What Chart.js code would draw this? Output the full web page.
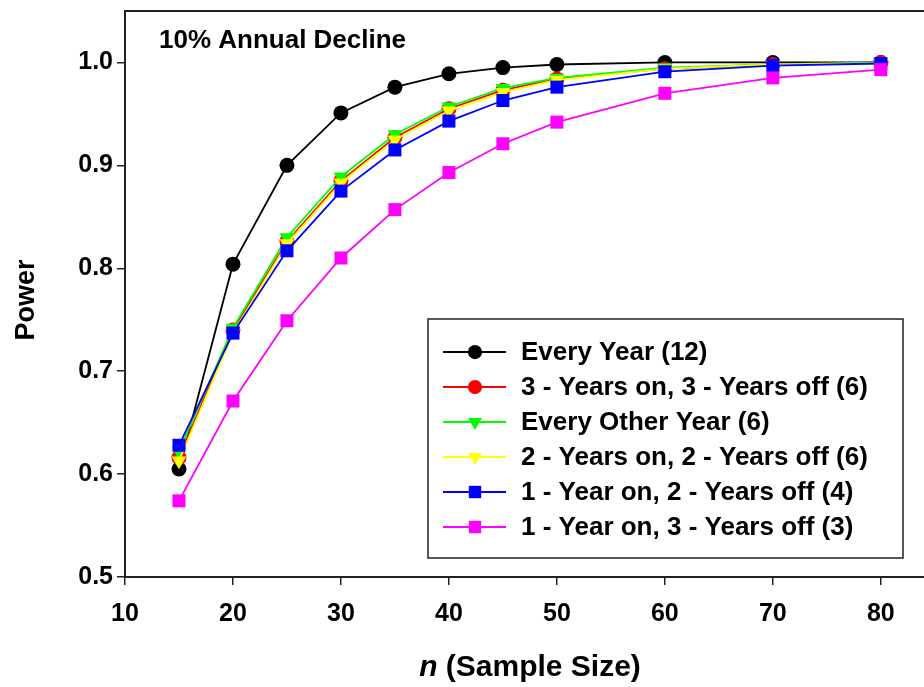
<!DOCTYPE html>
<html lang="en">
<head>
  <meta charset="UTF-8" />
  <title>Power vs Sample Size</title>
  <script src="https://cdn.jsdelivr.net/npm/chart.js"></script>
  <style>
    html, body { margin: 0; padding: 0; background: #fff; overflow: hidden; }
    #powerChart { display: block; }
  </style>
</head>
<body>
  <canvas id="powerChart" width="924" height="687"></canvas>

  <script>
    // sample sizes (x) and power values per sampling scheme
    const sampleSizes = [15, 20, 25, 30, 35, 40, 45, 50, 60, 70, 80];
    const everyYear = [0.605, 0.804, 0.900, 0.951, 0.976, 0.989, 0.995, 0.998, 1.000, 1.000, 1.000];
    const threeOnThreeOff = [0.616, 0.740, 0.826, 0.885, 0.927, 0.955, 0.973, 0.984, 0.994, 0.998, 1.000];
    const everyOtherYear = [0.622, 0.742, 0.830, 0.889, 0.930, 0.957, 0.975, 0.985, 0.995, 0.998, 1.000];
    const twoOnTwoOff = [0.613, 0.737, 0.824, 0.883, 0.925, 0.953, 0.971, 0.983, 0.994, 0.998, 0.999];
    const oneOnTwoOff = [0.628, 0.737, 0.817, 0.875, 0.915, 0.943, 0.963, 0.976, 0.991, 0.997, 0.999];
    const oneOnThreeOff = [0.574, 0.671, 0.749, 0.810, 0.857, 0.893, 0.921, 0.942, 0.970, 0.985, 0.993];

    const seriesLabels = [
      'Every Year (12)',
      '3 - Years on, 3 - Years off (6)',
      'Every Other Year (6)',
      '2 - Years on, 2 - Years off (6)',
      '1 - Year on, 2 - Years off (4)',
      '1 - Year on, 3 - Years off (3)'
    ];
    const xTicks = [10, 20, 30, 40, 50, 60, 70, 80];
    const yTicks = [0.5, 0.6, 0.7, 0.8, 0.9, 1.0];

    const FONT = 'Arial, "Liberation Sans", Helvetica, sans-serif';

    const styles = [
      { color: '#000000', pointStyle: 'circle', rotation: 0, radius: 7.5 },
      { color: '#ff0000', pointStyle: 'circle', rotation: 0, radius: 7.5 },
      { color: '#00ff00', pointStyle: 'triangle', rotation: 180, radius: 8.5 },
      { color: '#ffff00', pointStyle: 'triangle', rotation: 180, radius: 8.5 },
      { color: '#0000ff', pointStyle: 'rect', rotation: 0, radius: 9.2 },
      { color: '#ff00ff', pointStyle: 'rect', rotation: 0, radius: 9.2 }
    ];
    const allSeries = [everyYear, threeOnThreeOff, everyOtherYear, twoOnTwoOff, oneOnTwoOff, oneOnThreeOff];

    const datasets = allSeries.map((vals, i) => ({
      label: seriesLabels[i],
      data: vals.map((v, j) => ({ x: sampleSizes[j], y: v })),
      borderColor: styles[i].color,
      backgroundColor: styles[i].color,
      pointBackgroundColor: styles[i].color,
      pointBorderColor: styles[i].color,
      pointBorderWidth: 0,
      pointStyle: styles[i].pointStyle,
      pointRotation: styles[i].rotation,
      pointRadius: styles[i].radius,
      borderWidth: 1.8,
      tension: 0,
      fill: false,
      clip: false,
      order: allSeries.length - i   // later series drawn on top
    }));

    // frame, panel title, axis titles and the boxed legend
    const decorations = {
      id: 'decorations',
      afterDraw(chart) {
        const ctx = chart.ctx;
        const area = chart.chartArea;
        ctx.save();

        // top border of the plot frame
        ctx.strokeStyle = '#222';
        ctx.lineWidth = 2;
        ctx.beginPath();
        ctx.moveTo(area.left, area.top);
        ctx.lineTo(chart.width, area.top);
        ctx.stroke();

        // panel title
        ctx.fillStyle = '#000';
        ctx.font = 'bold 26px ' + FONT;
        ctx.textAlign = 'left';
        ctx.textBaseline = 'middle';
        ctx.fillText('10% Annual Decline', area.left + 34, area.top + 30);

        // y axis title
        ctx.save();
        ctx.translate(27, 300);
        ctx.rotate(-Math.PI / 2);
        ctx.textAlign = 'center';
        ctx.font = 'bold 27px ' + FONT;
        ctx.fillText('Power', 0, 0);
        ctx.restore();

        // x axis title: italic n + bold text
        const part1 = 'n';
        const part2 = ' (Sample Size)';
        ctx.font = 'italic bold 30px ' + FONT;
        const w1 = ctx.measureText(part1).width;
        ctx.font = 'bold 30px ' + FONT;
        const w2 = ctx.measureText(part2).width;
        const cx = 530;
        const tx = cx - (w1 + w2) / 2;
        const ty = 668;
        ctx.textAlign = 'left';
        ctx.font = 'italic bold 30px ' + FONT;
        ctx.fillText(part1, tx, ty);
        ctx.font = 'bold 30px ' + FONT;
        ctx.fillText(part2, tx + w1, ty);

        // legend box
        const box = { x: 428, y: 319, w: 475, h: 239 };
        ctx.fillStyle = '#fff';
        ctx.fillRect(box.x, box.y, box.w, box.h);
        ctx.strokeStyle = '#222';
        ctx.lineWidth = 1.5;
        ctx.strokeRect(box.x, box.y, box.w, box.h);

        chart.data.datasets.forEach((ds, i) => {
          const y = box.y + 33 + i * 35;
          ctx.strokeStyle = ds.borderColor;
          ctx.lineWidth = 1.8;
          ctx.beginPath();
          ctx.moveTo(box.x + 15, y);
          ctx.lineTo(box.x + 78, y);
          ctx.stroke();
          ctx.fillStyle = ds.pointBackgroundColor;
          Chart.helpers.drawPoint(ctx, {
            pointStyle: ds.pointStyle,
            rotation: ds.pointRotation,
            radius: ds.pointRadius * 0.95,
            borderWidth: 0
          }, box.x + 47, y);
          ctx.fillStyle = '#000';
          ctx.font = 'bold 26px ' + FONT;
          ctx.textAlign = 'left';
          ctx.textBaseline = 'middle';
          ctx.fillText(ds.label, box.x + 93, y + 1);
        });

        ctx.restore();
      }
    };

    const ctx = document.getElementById('powerChart').getContext('2d');
    new Chart(ctx, {
      type: 'line',
      data: { datasets: datasets },
      options: {
        responsive: false,
        animation: false,
        devicePixelRatio: 1,
        layout: { autoPadding: false, padding: { top: 11, left: 0, right: 0, bottom: 0 } },
        plugins: {
          legend: { display: false },
          tooltip: { enabled: false }
        },
        scales: {
          x: {
            type: 'linear',
            min: 10,
            max: 84,
            afterBuildTicks: scale => { scale.ticks = xTicks.map(v => ({ value: v })); },
            afterFit: scale => { scale.height = 110; scale.paddingLeft = 0; scale.paddingRight = 0; },
            grid: { drawOnChartArea: false, drawTicks: true, tickLength: 8, color: '#222', lineWidth: 1.5 },
            border: { color: '#222', width: 2 },
            ticks: {
              font: { family: FONT, size: 25, weight: 'bold' },
              color: '#000',
              padding: 14,
              maxRotation: 0,
              autoSkip: false
            }
          },
          y: {
            min: 0.5,
            max: 1.05,
            afterBuildTicks: scale => { scale.ticks = yTicks.map(v => ({ value: v })); },
            afterFit: scale => { scale.width = 125; scale.paddingTop = 0; scale.paddingBottom = 0; },
            grid: { drawOnChartArea: false, drawTicks: true, tickLength: 8, color: '#222', lineWidth: 1.5 },
            border: { color: '#222', width: 2 },
            ticks: {
              font: { family: FONT, size: 25, weight: 'bold' },
              color: '#000',
              padding: 4,
              callback: v => v.toFixed(1)
            }
          }
        }
      },
      plugins: [decorations]
    });
  </script>
</body>
</html>
